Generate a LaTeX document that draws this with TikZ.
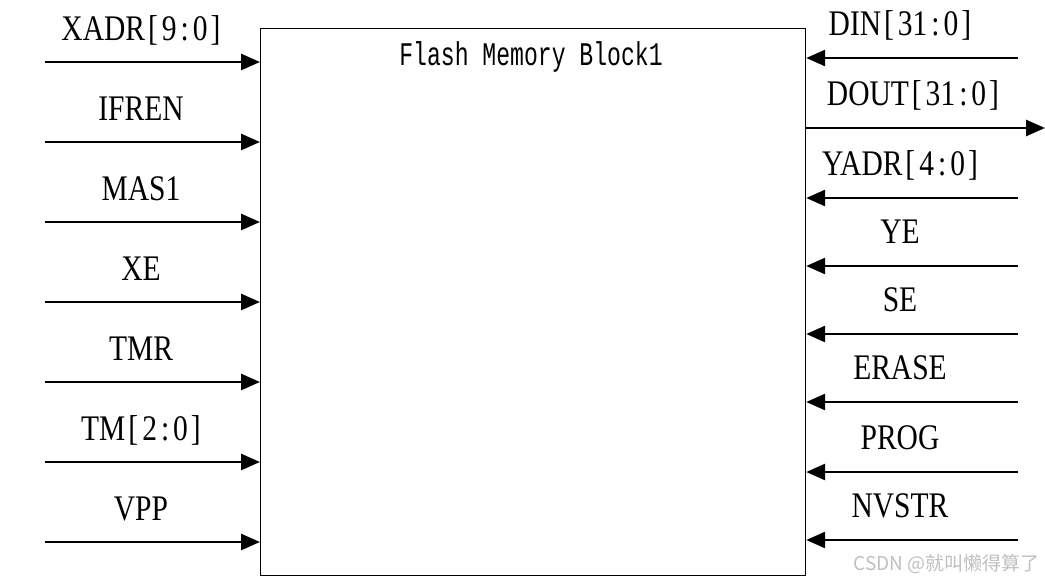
\documentclass[tikz,border=0pt]{standalone}
\usepackage{fontspec}
\setmainfont{Liberation Serif}[FakeStretch=0.82]
\newfontfamily\blockfont{Liberation Mono}[FakeStretch=0.7]
\newfontfamily\cjkfont{Noto Sans CJK SC}
\usetikzlibrary{arrows.meta}

% bus range, spaced like the reference
\newcommand\busrange[2]{\kern3pt[\kern4pt#1\kern4pt:\kern4pt#2\kern3pt]}

\tikzset{
	sig/.style={line width=2.8pt,-{Triangle[length=19pt,width=16pt]}},
	signame/.style={anchor=base,inner sep=0pt,font=\fontsize{36}{36}\selectfont},
}

\begin{document}
\begin{tikzpicture}[x=1pt,y=-1pt]

\useasboundingbox (0,0) rectangle (1045,581);

% block
\node (blk) [draw,line width=1.2pt,anchor=north west,inner sep=0pt,
	minimum width=545pt,minimum height=547pt] at (260,28) {};
\node (title) [anchor=base,inner sep=0pt,font=\blockfont\fontsize{33}{33}\selectfont]
	at (531,65) {Flash Memory Block1};

% inputs, left side
\foreach \name [count=\i] in {XADR\busrange{9}{0},IFREN,MAS1,XE,TMR,TM\busrange{2}{0},VPP} {
	\coordinate (in\i) at (45,{62+80*(\i-1)});
	\node[signame] (lname\i) at ([xshift=96pt,yshift=22pt]in\i) {\name};
	\draw[sig] (in\i) -- (in\i -| blk.west);
}

% inputs, right side
\foreach \y/\name [count=\i] in {58/DIN\busrange{31}{0},198/YADR\busrange{4}{0},266/YE,334/SE,402/ERASE,472/PROG,540/NVSTR} {
	\coordinate (rin\i) at (1018,\y);
	\node[signame] (rname\i) at ([xshift=-118pt,yshift=23pt]rin\i) {\name};
	\draw[sig] (rin\i) -- (rin\i -| blk.east);
}

% output
\coordinate (dout) at (1045,128);
\node[signame] (doutname) at ([xshift=-132pt,yshift=23pt]dout) {DOUT\busrange{31}{0}};
\draw[sig] (dout -| blk.east) -- (dout);

\node (wm) [anchor=base east,inner sep=0pt,text=black!25,font=\cjkfont\fontsize{19}{19}\selectfont]
	at (1040,570) {CSDN @就叫懒得算了};

\end{tikzpicture}
\end{document}
